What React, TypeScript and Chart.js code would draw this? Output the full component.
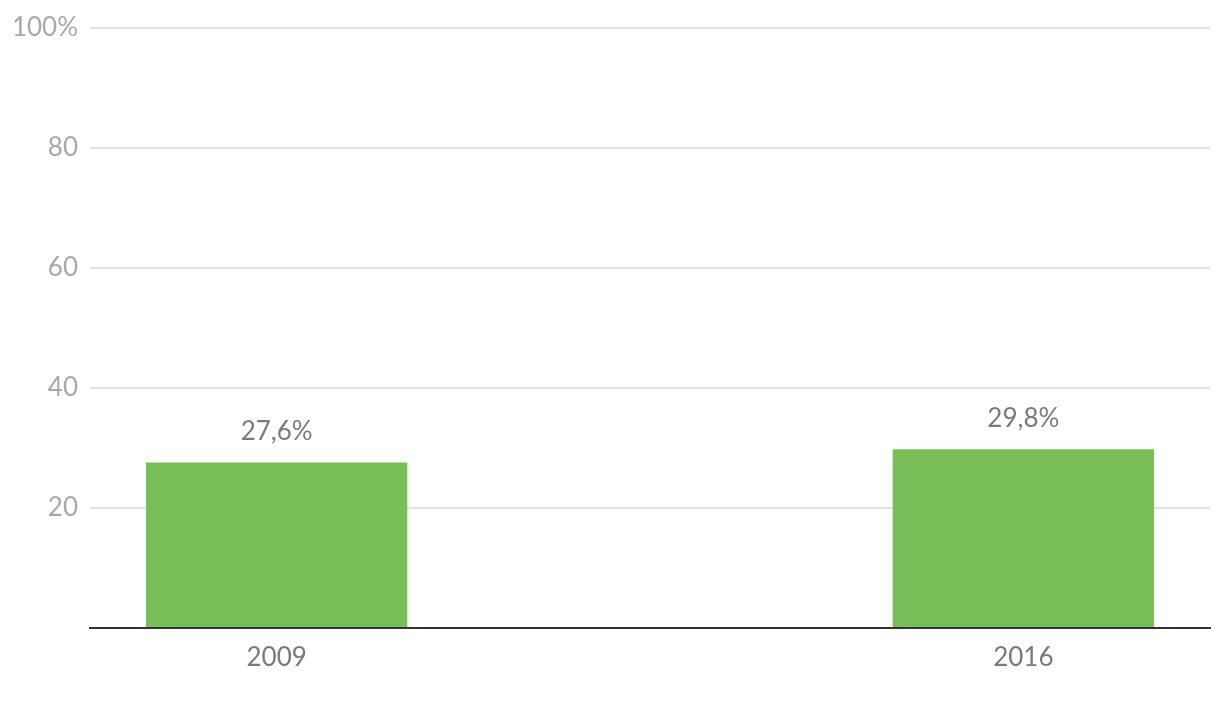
import React, { useEffect, useRef } from "react";
import { Chart, registerables } from "chart.js";

Chart.register(...registerables);

const categories = ["2009", "", "2016"];
const values: (number | null)[] = [27.6, null, 29.8];
const valueLabels = ["27,6%", "", "29,8%"];
const yTicks = [0, 20, 40, 60, 80, 100];

const FONT = "Lato, 'Open Sans', sans-serif";

const valueLabelPlugin = {
  id: "valueLabels",
  afterDatasetsDraw(chart: any) {
    const ctx = chart.ctx;
    const meta = chart.getDatasetMeta(0);
    ctx.save();
    ctx.font = `26px ${FONT}`;
    ctx.fillStyle = "#7a7a7a";
    ctx.textAlign = "center";
    ctx.textBaseline = "middle";
    meta.data.forEach((bar: any, i: number) => {
      if (values[i] == null) return;
      ctx.fillText(valueLabels[i], bar.x, bar.y - 31);
    });
    ctx.restore();
  },
};

export default function App() {
  const ref = useRef<HTMLCanvasElement | null>(null);
  useEffect(() => {
    if (!ref.current) return;
    const chart = new Chart(ref.current, {
      type: "bar",
      data: {
        labels: categories,
        datasets: [
          {
            data: values,
            backgroundColor: "#79bf58",
            categoryPercentage: 1,
            barPercentage: 0.7,
          },
        ],
      },
      options: {
        animation: false,
        responsive: false,
        maintainAspectRatio: false,
        layout: { padding: { top: 28, right: 10, left: 0, bottom: 0 } },
        plugins: { legend: { display: false }, tooltip: { enabled: false } },
        scales: {
          x: {
            grid: { display: false, drawTicks: false },
            border: { color: "#333333", width: 2 },
            ticks: {
              color: "#7a7a7a",
              font: { family: FONT, size: 26 },
              padding: 14,
            },
            afterFit(scale: any) {
              scale.height = 76;
            },
          },
          y: {
            min: 0,
            max: 100,
            afterBuildTicks(scale: any) {
              scale.ticks = yTicks.map((v) => ({ value: v }));
            },
            grid: { color: "#e3e3e3", lineWidth: 2, drawTicks: false },
            border: { display: false },
            ticks: {
              color: "#a8a8a8",
              font: { family: FONT, size: 26 },
              padding: 12,
              callback: (v: any) => (v === 0 ? "" : v === 100 ? "100%" : String(v)),
            },
            afterFit(scale: any) {
              scale.width = 90;
            },
          },
        },
      },
      plugins: [valueLabelPlugin],
    });
    return () => chart.destroy();
  }, []);
  return (
    <div style={{ position: "absolute", left: 0, top: 0, width: 1220, height: 704, background: "#fff" }}>
      <canvas ref={ref} width={1220} height={704} style={{ display: "block" }} />
    </div>
  );
}
